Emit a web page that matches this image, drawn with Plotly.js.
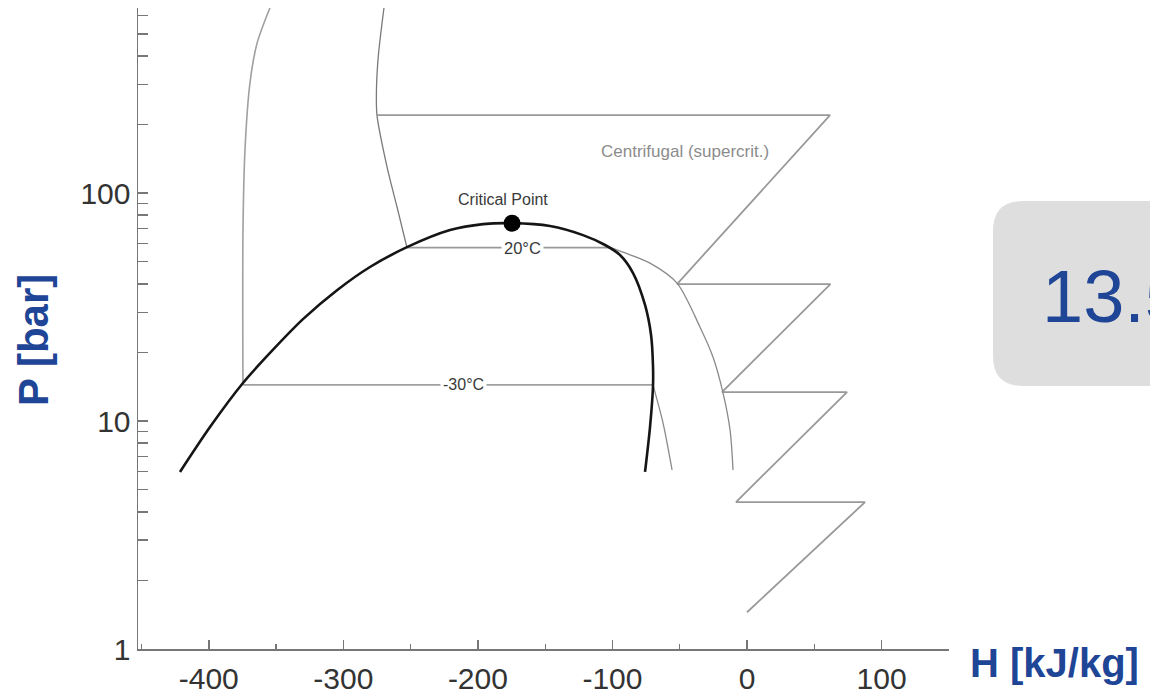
<!DOCTYPE html>
<html>
<head>
<meta charset="utf-8">
<script src="https://cdn.plot.ly/plotly-3.0.1.min.js"></script>
<style>html,body{margin:0;padding:0;background:#fff;overflow:hidden}#chart{width:1150px;height:698px}</style>
</head>
<body>
<div id="chart"></div>
<script>
// Saturation dome (black)
const domeH = [-421.4, -399.1, -374.6, -354.5, -330.0, -304.7, -280.2, -252.7, -220.7, -196.2, -174.6, -146.4, -121.9, -105.5, -94.4, -84.7, -75.8, -71.3, -69.9, -69.9, -72.1, -75.8];
const domeP = [5.98, 9.41, 14.68, 19.9, 28.0, 37.5, 47.4, 57.9, 68.8, 73.1, 73.8, 71.7, 65.4, 59.2, 53.5, 44.6, 32.3, 23.8, 17.6, 14.1, 9.41, 5.98];
// Critical point
const critH = [-174.6];
const critP = [73.8];
// Left isentrope (liquid side)
const leftH = [-374.6, -374.6, -373.1, -369.4, -364.1, -354.5];
const leftP = [14.4, 66.8, 154.4, 303.6, 454.9, 650];
// Second curve from top to dome
const secH = [-269.8, -274.0, -275.4, -275.0, -267.5, -260.1, -252.7];
const secP = [650, 400, 283, 219.8, 130, 86.9, 57.7];
// Zig-zag (centrifugal compression / cooling)
const zigH = [-275.0, 61.7, -52.0, 62.0, -18.6, 74.3, -8.2, 87.7, 0];
const zigP = [219.8, 219.8, 39.9, 39.9, 13.4, 13.4, 4.41, 4.41, 1.45];
// 20°C isotherm
const iso20H = [-252.7, -101.0];
const iso20P = [57.7, 57.7];
const curve20H = [-101.0, -92.2, -72.1, -52.0, -34.9, -25.3, -17.8, -12.6, -10.4];
const curve20P = [57.7, 55.1, 49.3, 40.3, 25.8, 19.1, 13.27, 9.13, 6.10];
// -30°C isotherm
const isoM30H = [-374.6, -69.9];
const isoM30P = [14.4, 14.4];
const curveM30H = [-69.9, -62.4, -55.7];
const curveM30P = [14.4, 9.8, 6.10];
// Labels
const labelText = ["Critical Point", "20°C", "-30°C", "Centrifugal (supercrit.)"];
const labelH = [-181.3, -167.2, -211.0, -46.0];
const labelP = [94.2, 57.7, 14.4, 152.8];
// Ticks
const xTickVals = [-400, -300, -200, -100, 0, 100];
const xTickText = ["-400", "-300", "-200", "-100", "0", "100"];
const yTickVals = [1,2,3,4,5,6,7,8,9,10,20,30,40,50,60,70,80,90,100,200,300,400,500,600];
const yTickText = yTickVals.map(v => (v === 1 || v === 10 || v === 100) ? String(v) : "");
const boxValue = "13.5";

const lineTrace = (x, y, color, width, shape, sm) => ({
  x: x, y: y, mode: 'lines', type: 'scatter', hoverinfo: 'skip', showlegend: false,
  line: {color: color, width: width, shape: shape || 'linear', smoothing: sm || 0.7}
});

const data = [
  lineTrace(leftH, leftP, '#a0a0a0', 1.6, 'spline', 0.8),
  lineTrace(secH, secP, '#7a7a7a', 1.3, 'spline', 0.8),
  lineTrace(zigH, zigP, '#999999', 1.8),
  lineTrace(iso20H, iso20P, '#999999', 1.8),
  lineTrace(curve20H, curve20P, '#8a8a8a', 1.3, 'spline', 0.8),
  lineTrace(isoM30H, isoM30P, '#a0a0a0', 1.8),
  lineTrace(curveM30H, curveM30P, '#8a8a8a', 1.3, 'spline', 0.8),
  lineTrace(domeH, domeP, '#151515', 2.6, 'spline', 0.8),
  {x: critH, y: critP, mode: 'markers', type: 'scatter', hoverinfo: 'skip', showlegend: false,
   marker: {color: '#000', size: 17}}
];

const font = '"Liberation Sans", Arial, sans-serif';
const labelSize = [16, 16.5, 16, 17];
const annotations = labelText.map((t, i) => ({
  x: labelH[i], y: Math.log10(labelP[i]), xref: 'x', yref: 'y', text: t, showarrow: false,
  font: {family: font, size: labelSize[i], color: i === 3 ? '#8c8c8c' : '#3a3a3a'},
  bgcolor: (i === 1 || i === 2) ? '#ffffff' : 'rgba(0,0,0,0)', borderpad: 2
}));
annotations.push({
  x: (968 - 138) / 811, y: (649 - 663) / 641, xref: 'paper', yref: 'paper',
  xanchor: 'left', yanchor: 'middle', text: '<b>H [kJ/kg]</b>', showarrow: false,
  font: {family: font, size: 40, color: '#1f4596'}
});
annotations.push({
  x: (33 - 138) / 811, y: (649 - 340) / 641, xref: 'paper', yref: 'paper',
  xanchor: 'center', yanchor: 'middle', text: '<b>P [bar]</b>', showarrow: false, textangle: -90,
  font: {family: font, size: 42, color: '#1f4596'}
});
annotations.push({
  x: (1040 - 138) / 811, y: (649 - 296) / 641, xref: 'paper', yref: 'paper',
  xanchor: 'left', yanchor: 'middle', text: boxValue, showarrow: false,
  font: {family: font, size: 74, color: '#1f4596'}
});

const x0 = (993 - 138) / 811, x1 = 1.35;
const yt = (649 - 201) / 641, yb = (649 - 386) / 641;
const rx = 30 / 811, ry = 30 / 641;
const boxPath = `M ${x0 + rx},${yt} L ${x1},${yt} L ${x1},${yb} L ${x0 + rx},${yb} Q ${x0},${yb} ${x0},${yb + ry} L ${x0},${yt - ry} Q ${x0},${yt} ${x0 + rx},${yt} Z`;

const layout = {
  width: 1150, height: 698,
  margin: {l: 138, r: 201, t: 8, b: 49, pad: 0},
  paper_bgcolor: '#fff', plot_bgcolor: '#fff',
  showlegend: false,
  font: {family: font, color: '#333'},
  xaxis: {
    range: [-452.6, 150.1], tickvals: xTickVals, ticktext: xTickText,
    ticks: 'inside', ticklen: 9, tickwidth: 1.5, tickcolor: '#777',
    showline: true, linecolor: '#777', linewidth: 1.5, showgrid: false, zeroline: false,
    tickfont: {family: font, size: 30, color: '#333'}, ticklabelstandoff: 2,
    minor: {dtick: 50, tick0: 0, ticks: 'inside', ticklen: 5, tickwidth: 1.2, tickcolor: '#777', showgrid: false},
    fixedrange: true
  },
  yaxis: {
    type: 'log', range: [0, 2.812], tickvals: yTickVals, ticktext: yTickText,
    ticks: 'inside', ticklen: 10, tickwidth: 1.5, tickcolor: '#777',
    showline: true, linecolor: '#777', linewidth: 1.5, showgrid: false, zeroline: false,
    tickfont: {family: font, size: 30, color: '#333'},
    fixedrange: true
  },
  shapes: [{type: 'path', xref: 'paper', yref: 'paper', path: boxPath, fillcolor: '#dedede', line: {width: 0}, layer: 'below'}],
  annotations: annotations
};

Plotly.newPlot('chart', data, layout, {displayModeBar: false, staticPlot: true});
</script>
</body>
</html>
